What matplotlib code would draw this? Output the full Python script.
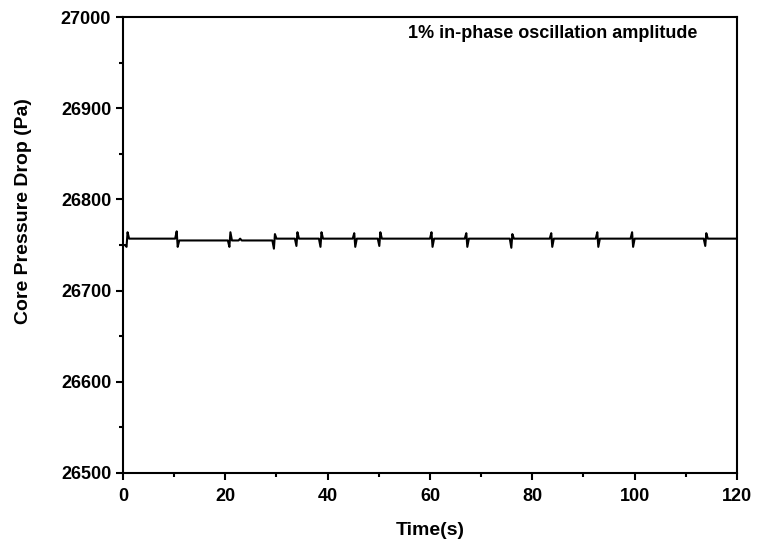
import matplotlib
matplotlib.use("Agg")
from matplotlib import pyplot as plt
from matplotlib.ticker import MultipleLocator

plt.rcParams["font.family"] = ["Liberation Sans", "DejaVu Sans"]
plt.rcParams["font.weight"] = "bold"

# core pressure drop trace (spikes at step changes)
time = [0.0, 0.4, 0.7, 0.9, 1.2,
        10.2, 10.5, 10.7, 11.0,
        20.5, 20.8, 21.0, 21.3, 22.6, 22.9, 23.2,
        29.2, 29.5, 29.7, 30.0,
        33.6, 33.9, 34.1, 34.4,
        38.3, 38.6, 38.8, 39.1,
        44.9, 45.2, 45.4, 45.7,
        49.8, 50.1, 50.3, 50.6,
        60.0, 60.3, 60.5, 60.8,
        66.8, 67.1, 67.3, 67.6,
        75.6, 75.9, 76.1, 76.4,
        83.4, 83.7, 83.9, 84.2,
        92.4, 92.7, 92.9, 93.2,
        99.2, 99.5, 99.7, 100.0,
        113.5, 113.8, 114.0, 114.3,
        120.0]
pressure = [26750, 26750, 26748, 26764, 26757,
            26757, 26765, 26748, 26755,
            26755, 26748, 26764, 26755, 26755, 26757, 26755,
            26755, 26746, 26762, 26757,
            26757, 26749, 26764, 26757,
            26757, 26748, 26764, 26757,
            26757, 26763, 26748, 26757,
            26757, 26749, 26764, 26757,
            26757, 26764, 26748, 26757,
            26757, 26763, 26748, 26757,
            26757, 26747, 26762, 26757,
            26757, 26763, 26748, 26757,
            26757, 26764, 26748, 26757,
            26757, 26764, 26748, 26757,
            26757, 26749, 26763, 26757,
            26757]

x_ticks = [0, 20, 40, 60, 80, 100, 120]
y_ticks = [26500, 26600, 26700, 26800, 26900, 27000]

fig = plt.figure(figsize=(7.59, 5.5), dpi=100)
ax = fig.add_axes([0.162, 0.14, 0.809, 0.829])
ax.plot(time, pressure, color="black", lw=1.5)

ax.set_xlim(0, 120)
ax.set_ylim(26500, 27000)
ax.set_xticks(x_ticks)
ax.set_yticks(y_ticks)
ax.xaxis.set_minor_locator(MultipleLocator(10))
ax.yaxis.set_minor_locator(MultipleLocator(50))
ax.tick_params(which="both", direction="out", width=1.5, top=False, right=False,
               labelsize=13)
ax.tick_params(which="major", length=5)
ax.tick_params(which="minor", length=3)
ax.tick_params(axis="x", pad=6)
for s in ax.spines.values():
    s.set_linewidth(1.5)
for lab in ax.get_xticklabels() + ax.get_yticklabels():
    lab.set_fontweight("bold")

ax.set_xlabel("Time(s)", fontsize=14, fontweight="bold", labelpad=12)
ax.set_ylabel("Core Pressure Drop (Pa)", fontsize=14, fontweight="bold")
ax.yaxis.set_label_coords(-0.148, 0.575)
ax.text(0.936, 0.963, "1% in-phase oscillation amplitude", transform=ax.transAxes,
        ha="right", va="center", fontsize=13, fontweight="bold")

fig.savefig("out.png", dpi=100)
